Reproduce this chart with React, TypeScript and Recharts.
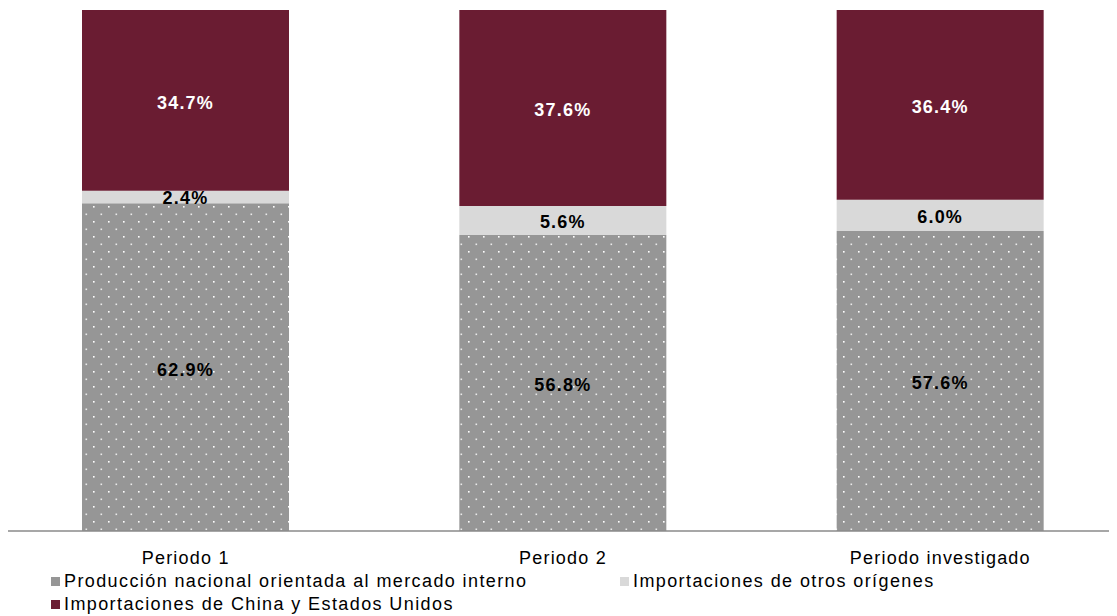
import React from 'react'
import { BarChart, Bar, XAxis, YAxis, LabelList, Legend } from 'recharts'

const periods = ['Periodo 1', 'Periodo 2', 'Periodo investigado']
const nacional = [62.9, 56.8, 57.6]
const otros = [2.4, 5.6, 6.0]
const chinaEU = [34.7, 37.6, 36.4]

const seriesNames = [
  'Producción nacional orientada al mercado interno',
  'Importaciones de otros orígenes',
  'Importaciones de China y Estados Unidos',
]

const MAROON = '#6A1C32'
const LIGHT = '#D9D9D9'
const GRAY = '#969696'
const FONT = '"Liberation Sans", Arial, sans-serif'

const data = periods.map((p, i) => ({
  periodo: p,
  nacional: nacional[i],
  otros: otros[i],
  chinaEU: chinaEU[i],
}))

const pct = (v: any) => `${Number(v).toFixed(1)}%`

const labelStyle = { fontWeight: 'bold', fontSize: 18, fontFamily: FONT, letterSpacing: 1.2 }

function LegendBox() {
  const item = (color: string, text: string, left: number, top: number) => (
    <div
      key={text}
      style={{
        position: 'absolute',
        left,
        top,
        display: 'flex',
        alignItems: 'center',
        whiteSpace: 'nowrap',
        fontFamily: FONT,
        fontSize: 18,
        letterSpacing: 1.4,
        color: '#000',
      }}
    >
      <span style={{ width: 9, height: 9, background: color, marginRight: 4, display: 'inline-block' }} />
      {text}
    </div>
  )
  return (
    <div style={{ position: 'relative', width: 1117, height: 50 }}>
      {item(GRAY, seriesNames[0], 44, 5)}
      {item(LIGHT, seriesNames[1], 613, 5)}
      {item(MAROON, seriesNames[2], 44, 28)}
    </div>
  )
}

export default function App() {
  return (
    <div style={{ marginLeft: -8, width: 1117, height: 608 }}>
      <BarChart
        width={1117}
        height={608}
        data={data}
        margin={{ top: 2, right: 1, bottom: 0, left: 7 }}
        barSize={207}
      >
        <defs>
          <pattern id="dots" width="15" height="15" patternUnits="userSpaceOnUse">
            <rect width="15" height="15" fill={GRAY} />
            <rect x="3" y="3" width="1.6" height="1.6" fill="#fff" />
            <rect x="10.5" y="10.5" width="1.6" height="1.6" fill="#fff" opacity={0.8} />
          </pattern>
        </defs>
        <XAxis
          dataKey="periodo"
          height={35}
          tickLine={false}
          tickMargin={14}
          padding={{ left: -10, right: -13 }}
          axisLine={{ stroke: '#8a8a8a', strokeWidth: 1.5 }}
          tick={{ fill: '#000', fontSize: 18, fontFamily: FONT, letterSpacing: 1.2 }}
        />
        <YAxis hide domain={[0, 100]} />
        <Legend verticalAlign="bottom" content={() => <LegendBox />} wrapperStyle={{ height: 50 }} />
        <Bar dataKey="nacional" stackId="a" fill="url(#dots)" isAnimationActive={false}>
          <LabelList dataKey="nacional" position="center" formatter={pct} dy={2} style={{ ...labelStyle, fill: '#000' }} />
        </Bar>
        <Bar dataKey="otros" stackId="a" fill={LIGHT} isAnimationActive={false}>
          <LabelList dataKey="otros" position="center" formatter={pct} dy={1} style={{ ...labelStyle, fill: '#000' }} />
        </Bar>
        <Bar dataKey="chinaEU" stackId="a" fill={MAROON} isAnimationActive={false}>
          <LabelList dataKey="chinaEU" position="center" formatter={pct} dy={2} style={{ ...labelStyle, fill: '#fff' }} />
        </Bar>
      </BarChart>
    </div>
  )
}
